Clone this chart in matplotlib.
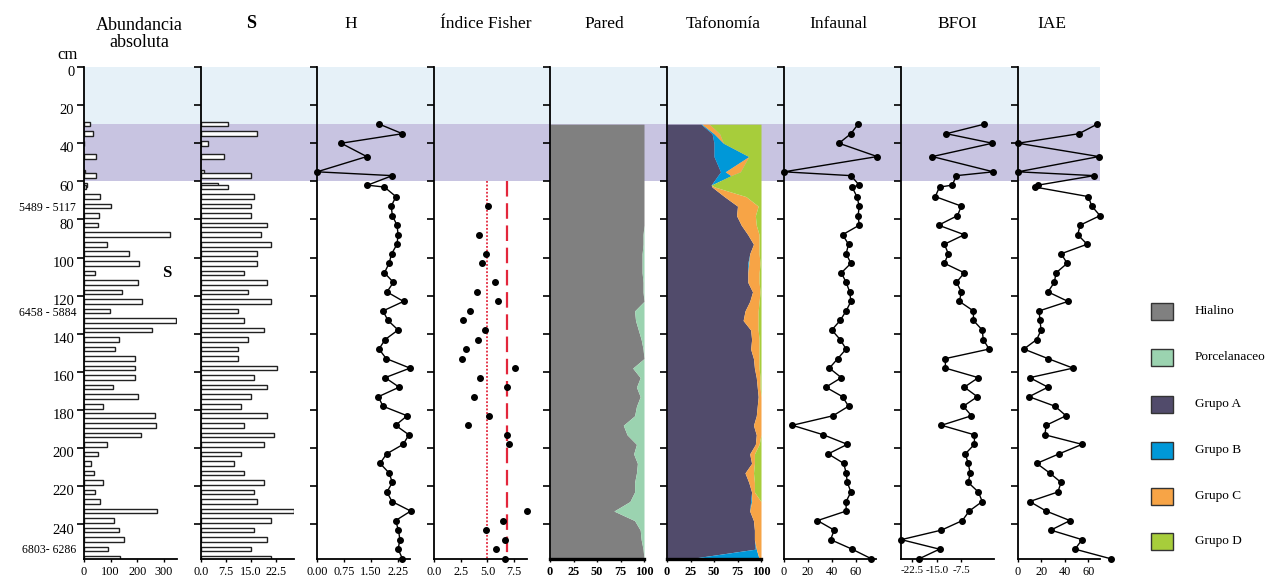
import matplotlib
matplotlib.use("Agg")
import matplotlib.pyplot as plt
from matplotlib.patches import Rectangle
from matplotlib.transforms import ScaledTranslation

plt.rcParams['font.family'] = ['Liberation Serif', 'DejaVu Serif']

# ---------------- data ----------------
depth_cm = [30, 35, 40, 47, 55, 57, 62, 63, 68, 73, 78, 83, 88, 93, 98, 103, 108, 113,
            118, 123, 128, 133, 138, 143, 148, 153, 158, 163, 168, 173, 178, 183, 188,
            193, 198, 203, 208, 213, 218, 223, 228, 233, 238, 243, 248, 253, 258]

abundancia = [22, 33, 0, 44, 2, 46, 10, 8, 60, 100, 57, 54, 322, 86, 171, 207, 40, 202,
              142, 218, 97, 345, 256, 131, 116, 192, 191, 191, 110, 205, 70, 266, 270,
              213, 87, 54, 26, 37, 70, 40, 60, 275, 112, 132, 151, 91, 137]

riqueza_S = [8, 17, 2, 7, 1, 15, 5, 8, 16, 15, 15, 20, 18, 21, 17, 17, 13, 20, 14, 21,
             11, 13, 19, 14, 11, 11, 23, 16, 20, 15, 12, 20, 13, 22, 19, 12, 10, 13, 19,
             16, 17, 28, 21, 16, 20, 15, 21]

shannon_H = [1.73, 2.37, 0.67, 1.38, 0.00, 2.09, 1.40, 1.87, 2.19, 2.06, 2.09, 2.22, 2.25,
             2.22, 2.07, 2.00, 1.87, 2.12, 1.94, 2.40, 1.83, 1.97, 2.25, 1.89, 1.72, 1.92,
             2.58, 1.89, 2.28, 1.70, 1.83, 2.50, 2.18, 2.55, 2.39, 1.93, 1.75, 2.00, 2.09,
             1.94, 2.08, 2.60, 2.18, 2.26, 2.30, 2.25, 2.37]

fisher_depth = [73, 88, 98, 103, 113, 118, 123, 128, 133, 138, 143, 148, 153, 158, 163,
                168, 173, 183, 188, 193, 198, 233, 238, 243, 248, 253, 258]
fisher_alpha = [5.08, 4.24, 4.86, 4.52, 5.74, 4.02, 5.98, 3.34, 2.68, 4.80, 4.14, 3.02,
                2.65, 7.57, 4.30, 6.85, 3.71, 5.13, 3.14, 6.85, 7.04, 8.72, 6.50, 4.86,
                6.67, 5.82, 6.67]
fisher_ref_dotted = 4.97
fisher_ref_dashed = 6.85
fisher_ref_top = 60

hialino = [100, 100, 100, 100, 100, 100, 100, 100, 100, 100, 100, 100, 99, 99, 98, 98, 98,
           99, 99, 100, 90, 91, 94, 97, 99, 100, 88, 96, 92, 96, 92, 90, 78, 82, 92, 89,
           93, 92, 90, 90, 85, 68, 90, 96, 97, 99, 100]
porcelanaceo = [100 - v for v in hialino]

grupo_A = [36, 48, 50, 50, 57, 54, 47, 48, 61, 75, 74, 79, 86, 92, 88, 86, 86, 86, 91, 88,
           83, 81, 89, 90, 89, 92, 93, 95, 96, 97, 96, 95, 92, 95, 94, 88, 90, 83, 87, 90,
           89, 88, 92, 93, 93, 94, 24]
grupo_B = [1, 2, 10, 37, 5, 14, 0, 0, 0, 0, 0, 0, 0, 0, 0, 1, 0, 0, 0, 0, 0, 0, 0, 0, 0,
           0, 0, 0, 0, 0, 0, 0, 0, 0, 0, 0, 0, 0, 0, 0, 1, 0, 0, 0, 0, 1, 74]
grupo_C = [8, 6, 0, 0, 16, 0, 0, 3, 23, 22, 20, 16, 12, 6, 10, 12, 12, 12, 8, 10, 14, 16,
           8, 8, 9, 6, 5, 4, 3, 3, 4, 5, 8, 5, 4, 5, 3, 9, 6, 3, 10, 12, 8, 7, 7, 5, 2]
grupo_D = [100 - a - b - c for a, b, c in zip(grupo_A, grupo_B, grupo_C)]

infaunal = [62, 56, 46, 78, 0, 56, 63, 57, 61, 63, 62, 63, 49, 54, 52, 56, 48, 52, 55, 56,
            52, 47, 40, 47, 52, 45, 38, 48, 35, 49, 54, 41, 7, 33, 53, 37, 50, 52, 53, 56,
            52, 52, 28, 42, 39, 57, 73]

bfoi = [-0.5, -12.1, 2.0, -16.4, 2.3, -9.0, -10.3, -14.2, -15.5, -7.5, -8.7, -14.5, -6.6,
        -12.7, -11.5, -12.7, -6.6, -9.0, -7.5, -8.1, -3.8, -3.8, -1.1, -0.8, 1.0, -12.4,
        -12.4, -2.3, -6.6, -2.6, -6.9, -4.4, -13.6, -3.5, -3.5, -6.3, -5.4, -4.8, -5.4,
        -2.3, -1.1, -5.1, -7.2, -13.6, -25.9, -14.2, -20.4]

iae = [67.5, 52, 0, 69, 0, 65, 17, 14.5, 60, 63, 70, 53, 51, 59, 36.8, 42, 32.5, 31, 25.6,
       42.7, 18, 18.8, 19.7, 16, 5, 25.6, 47, 10, 25.6, 9.4, 31.6, 41, 24, 23, 54.7, 35,
       16, 27, 36.8, 34, 10, 24, 44.4, 28, 54.7, 48.7, 79]

zones = [(0, 30, '#e6f1f8'), (30, 60, '#c8c4e1')]
depth_ticks = [0, 20, 40, 60, 80, 100, 120, 140, 160, 180, 200, 220, 240]
age_labels = [('5489 - 5117', 74), ('6458 - 5884', 129), ('6803- 6286', 253.5)]

titles = ['Abundancia\nabsoluta', 'S', 'H', 'Índice Fisher', 'Pared', 'Tafonomía',
          'Infaunal', 'BFOI', 'IAE']
legend_labels = ['Hialino', 'Porcelanaceo', 'Grupo A', 'Grupo B', 'Grupo C', 'Grupo D']
legend_colors = ['#808080', '#9bd3b0', '#514b6b', '#0098d8', '#f7a446', '#a7cd3b']

# ---------------- layout ----------------
W, H = 1274, 582
TOP, BOT = 67, 558.7
DMAX = 258

fig = plt.figure(figsize=(W / 100, H / 100), dpi=100)


def add_panel(l, r):
    return fig.add_axes([l / W, 1 - BOT / H, (r - l) / W, (BOT - TOP) / H])


bg = add_panel(84, 1100)
bg.set_xlim(0, 1)
bg.set_ylim(DMAX, 0)
for z0, z1, c in zones:
    bg.axhspan(z0, z1, color=c, lw=0)
bg.axis('off')

panel_px = [(84, 177), (201, 294), (317, 410), (434, 527), (550, 644), (667, 761),
            (784, 876), (901, 994), (1018, 1100)]
axes = [add_panel(l, r) for l, r in panel_px]


def style(ax, xlim, xticks, xlabels, first=False, bold=False, thick=False, xfs=8.8):
    ax.set_facecolor('none')
    ax.set_ylim(DMAX, 0)
    ax.set_xlim(*xlim)
    for s in ['top', 'right']:
        ax.spines[s].set_visible(False)
    ax.spines['left'].set_linewidth(1.3)
    ax.spines['bottom'].set_linewidth(2.4 if thick else 1.3)
    ax.set_yticks(depth_ticks)
    ax.tick_params(axis='y', direction='out', length=5, width=1.2, pad=2)
    if first:
        ax.set_yticklabels([str(t) for t in depth_ticks], fontsize=10.5)
        off = ScaledTranslation(0, -3 / 72, fig.dpi_scale_trans)
        for lab in ax.get_yticklabels():
            lab.set_transform(lab.get_transform() + off)
    else:
        ax.set_yticklabels([])
    ax.set_xticks(xticks)
    ax.set_xticklabels(xlabels, fontsize=xfs, fontweight='bold' if bold else 'normal')
    ax.tick_params(axis='x', direction='out', length=2, width=1, pad=3)


dot = dict(color='black', lw=1.0, marker='o', ms=4, clip_on=False, zorder=5)

# Abundancia
ax = axes[0]
ax.barh(depth_cm, abundancia, height=2.4, color='white', edgecolor='#222222', linewidth=1.0)
style(ax, (0, 350), [0, 100, 200, 300], ['0', '100', '200', '300'], first=True)

# S
ax = axes[1]
ax.barh(depth_cm, riqueza_S, height=2.4, color='white', edgecolor='#222222', linewidth=1.0)
style(ax, (0, 28), [0, 7.5, 15, 22.5], ['0.0', '7.5', '15.0', '22.5'])

# H
ax = axes[2]
ax.plot(shannon_H, depth_cm, **dot)
style(ax, (0, 2.58), [0, 0.75, 1.5, 2.25], ['0.00', '0.75', '1.50', '2.25'])

# Fisher
ax = axes[3]
ax.vlines(fisher_ref_dotted, fisher_ref_top, DMAX, colors='#e3263b', linestyles=(0, (1, 1)), lw=1.3)
ax.vlines(fisher_ref_dashed, fisher_ref_top, DMAX, colors='#e3263b', linestyles=(0, (7, 3)), lw=1.6)
ax.plot(fisher_alpha, fisher_depth, 'o', color='black', ms=4, clip_on=False, zorder=5)
style(ax, (0, 8.7), [0, 2.5, 5, 7.5], ['0.0', '2.5', '5.0', '7.5'])

# Pared
ax = axes[4]
left = [0] * len(depth_cm)
for vals, col in [(hialino, legend_colors[0]), (porcelanaceo, legend_colors[1])]:
    right = [a + b for a, b in zip(left, vals)]
    ax.fill_betweenx(depth_cm, left, right, color=col, lw=0)
    left = right
style(ax, (0, 100), [0, 25, 50, 75, 100], ['0', '25', '50', '75', '100'], bold=True, thick=True)

# Tafonomia
ax = axes[5]
left = [0] * len(depth_cm)
for vals, col in zip([grupo_A, grupo_B, grupo_C, grupo_D], legend_colors[2:]):
    right = [a + b for a, b in zip(left, vals)]
    ax.fill_betweenx(depth_cm, left, right, color=col, lw=0)
    left = right
style(ax, (0, 100), [0, 25, 50, 75, 100], ['0', '25', '50', '75', '100'], bold=True, thick=True)

# Infaunal
ax = axes[6]
ax.plot(infaunal, depth_cm, **dot)
style(ax, (0, 77), [0, 20, 40, 60], ['0', '20', '40', '60'])

# BFOI
ax = axes[7]
ax.plot(bfoi, depth_cm, **dot)
style(ax, (-26, 2.5), [-22.5, -15, -7.5], ['-22.5', '-15.0', '-7.5'], xfs=8)

# IAE
ax = axes[8]
ax.plot(iae, depth_cm, **dot)
style(ax, (0, 70), [0, 20, 40, 60], ['0', '20', '40', '60'])

# ---------------- titles ----------------
title_x = [139, 251, 351, 486, 604, 723, 838, 957, 1052]
for t, x in zip(titles, title_x):
    if t.startswith('Abundancia'):
        fig.text(x / W, 1 - 34 / H, t, ha='center', va='center', fontsize=13, linespacing=1.05)
    elif t == 'S':
        fig.text(x / W, 1 - 24 / H, t, ha='center', va='center', fontsize=13, fontweight='bold')
    else:
        fig.text(x / W, 1 - 24 / H, t, ha='center', va='center', fontsize=12.5)

fig.text(68 / W, 1 - 55 / H, 'cm', ha='center', va='center', fontsize=12)

ax0 = axes[0]
for txt, d in age_labels:
    ax0.text(-8 / 0.266, d, txt, ha='right', va='center', fontsize=8.5, clip_on=False)
ax0.text(310, 108, 'S', ha='center', va='center', fontsize=12, fontweight='bold')

# ---------------- legend ----------------
leg_y = [311, 357, 404, 450, 496, 541]
for lab, col, y in zip(legend_labels, legend_colors, leg_y):
    fig.patches.append(Rectangle((1151 / W, 1 - (y + 8.5) / H), 22 / W, 17 / H,
                                 transform=fig.transFigure, facecolor=col,
                                 edgecolor='#333333', lw=1.0))
    fig.text(1195 / W, 1 - y / H, lab, ha='left', va='center', fontsize=9.5)

fig.savefig('out.png', dpi=100)
